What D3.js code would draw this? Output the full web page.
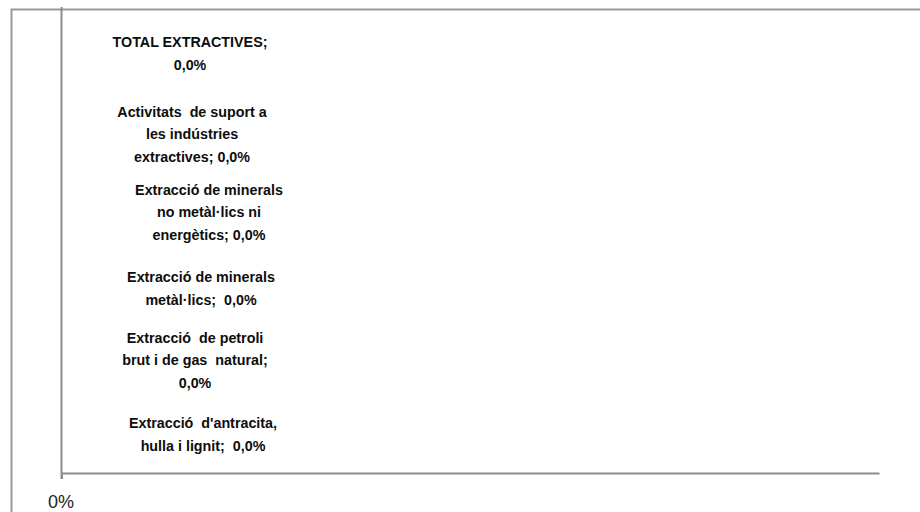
<!DOCTYPE html>
<html>
<head>
<meta charset="utf-8">
<script src="https://cdn.jsdelivr.net/npm/d3@7"></script>
<style>
  body { margin: 0; background: #fff; }
  .lbl { font-family: "Liberation Sans", Arial, sans-serif; font-size: 14.3px; font-weight: bold; fill: #0d0d0d; white-space: pre; }
  .tick text { font-family: "Liberation Sans", Arial, sans-serif; font-size: 18px; fill: #222; }
</style>
</head>
<body>
<div id="chart"></div>
<script>
// categories, top to bottom
var categories = [
  "TOTAL EXTRACTIVES",
  "Activitats de suport a les indústries extractives",
  "Extracció de minerals no metàl·lics ni energètics",
  "Extracció de minerals metàl·lics",
  "Extracció de petroli brut i de gas natural",
  "Extracció d'antracita, hulla i lignit"
];
var values = [0, 0, 0, 0, 0, 0];
// data label lines as they wrap in the original
var labelLines = [
  ["TOTAL EXTRACTIVES;", "0,0%"],
  ["Activitats  de suport a", "les indústries", "extractives; 0,0%"],
  ["Extracció de minerals", "no metàl·lics ni", "energètics; 0,0%"],
  ["Extracció de minerals", "metàl·lics;  0,0%"],
  ["Extracció  de petroli", "brut i de gas  natural;", "0,0%"],
  ["Extracció  d'antracita,", "hulla i lignit;  0,0%"]
];
var xTicks = [0];

var svgWidth = 920;
var svgHeight = 512;

var margin = {
  top: 9,
  left: 61.5,
  right: 879,
  bottom: 473
};

var svg = d3.select("#chart")
  .append("svg")
  .attr("width", svgWidth)
  .attr("height", svgHeight);

svg.append("rect")
  .attr("width", "100%")
  .attr("height", "100%")
  .attr("fill", "white");

// outer chart border (runs off the right and bottom edges)
svg.append("rect")
  .attr("x", 11.5)
  .attr("y", 9.5)
  .attr("width", 940)
  .attr("height", 540)
  .attr("fill", "none")
  .attr("stroke", "#9a9a9a")
  .attr("stroke-width", 2);

var x = d3.scaleLinear()
  .domain([0, 1])
  .range([margin.left, margin.right]);

var y = d3.scaleBand()
  .domain(categories)
  .range([margin.top, margin.bottom]);

// x axis
var xAxis = svg.append("g")
  .attr("transform", `translate(0, ${margin.bottom})`)
  .call(d3.axisBottom(x).tickValues(xTicks).tickSize(6).tickSizeOuter(0)
    .tickFormat(d => d3.format(".0%")(d)));
xAxis.select(".domain").attr("stroke", "#8c8c8c").attr("stroke-width", 2);
xAxis.selectAll(".tick line").attr("stroke", "#8c8c8c").attr("stroke-width", 2);
xAxis.selectAll(".tick text").attr("dy", 0).attr("y", 35).attr("x", -1);

// y axis
var yAxis = svg.append("g")
  .attr("transform", `translate(${margin.left}, 0)`)
  .call(d3.axisLeft(y).tickSize(0).tickFormat(""));
yAxis.select(".domain").attr("d", `M0,${margin.top - 2}V${margin.bottom + 6}`)
  .attr("stroke", "#8c8c8c").attr("stroke-width", 2);

// bars (zero width)
svg.selectAll(".bar")
  .data(values)
  .enter()
  .append("rect")
  .attr("class", "bar")
  .attr("x", x(0))
  .attr("y", (d, i) => y(categories[i]) + y.bandwidth() * 0.25)
  .attr("width", d => x(d) - x(0))
  .attr("height", y.bandwidth() * 0.5)
  .attr("fill", "#4f81bd");

// data labels (Excel nudges each one a little)
var lineH = 22.5;
var dx = [128.5, 130.5, 147.5, 139.5, 133.5, 141.5];
var dy = [6, 9, 10, 9, 3, 0];
var labels = svg.selectAll(".lbl")
  .data(labelLines)
  .enter()
  .append("text")
  .attr("class", "lbl")
  .attr("text-anchor", "middle")
  .attr("transform", (d, i) => {
    var cy = y(categories[i]) + y.bandwidth() / 2 + dy[i];
    return `translate(${x(values[i]) + dx[i]}, ${cy - (d.length - 1) * lineH / 2})`;
  });

labels.selectAll("tspan")
  .data(d => d)
  .enter()
  .append("tspan")
  .attr("x", 0)
  .attr("y", (d, i) => i * lineH)
  .attr("dy", "0.35em")
  .text(d => d);
</script>
</body>
</html>
